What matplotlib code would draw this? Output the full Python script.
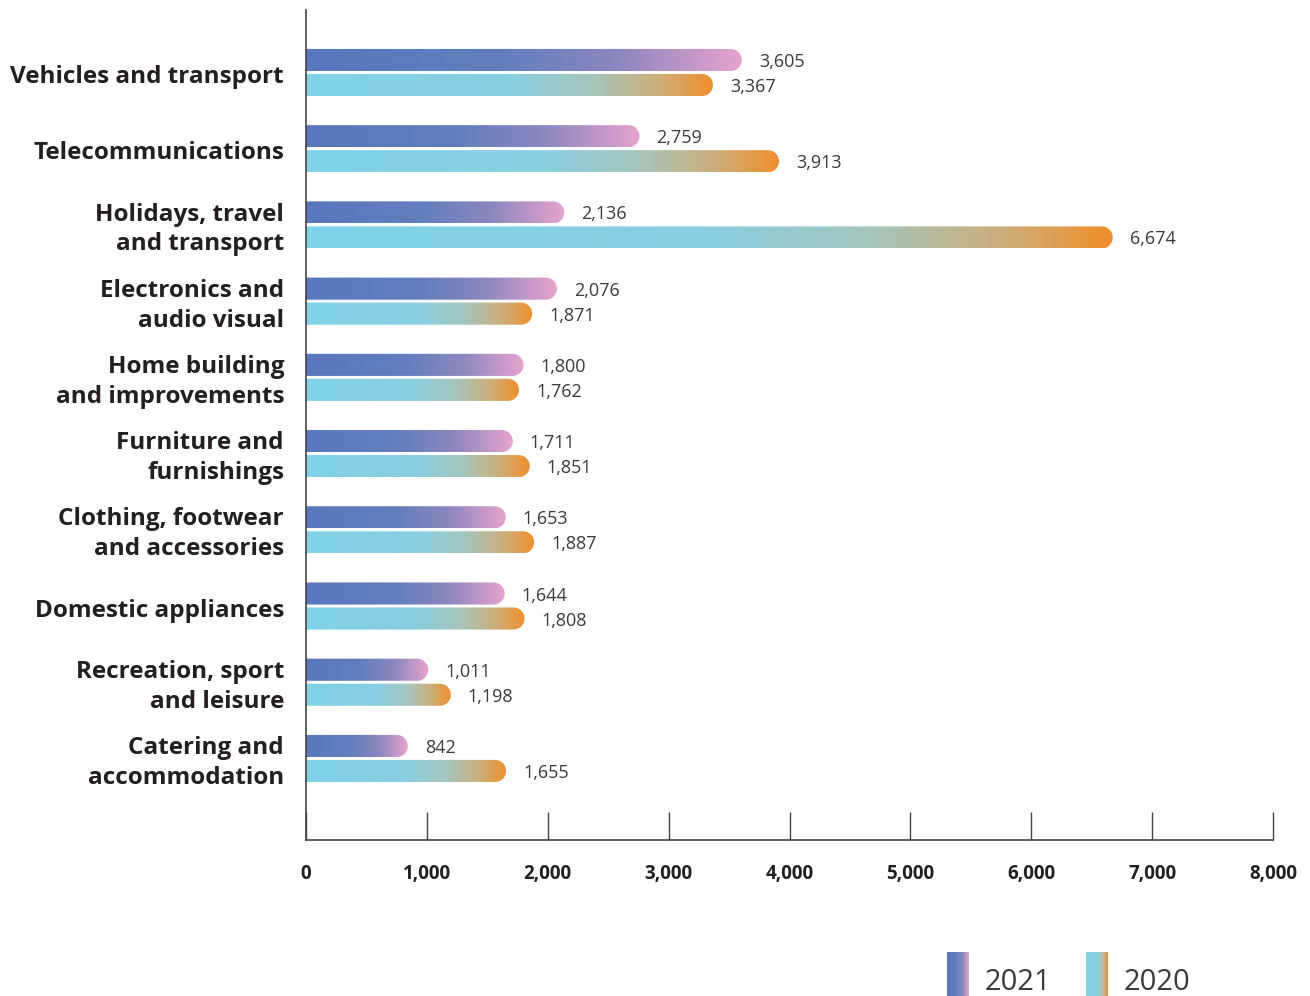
import numpy as np
import matplotlib.pyplot as plt
from matplotlib.colors import LinearSegmentedColormap
from matplotlib.path import Path
from matplotlib.patches import PathPatch

categories = [
    "Vehicles and transport",
    "Telecommunications",
    "Holidays, travel\nand transport",
    "Electronics and\naudio visual",
    "Home building\nand improvements",
    "Furniture and\nfurnishings",
    "Clothing, footwear\nand accessories",
    "Domestic appliances",
    "Recreation, sport\nand leisure",
    "Catering and\naccommodation",
]
values_2021 = [3605, 2759, 2136, 2076, 1800, 1711, 1653, 1644, 1011, 842]
values_2020 = [3367, 3913, 6674, 1871, 1762, 1851, 1887, 1808, 1198, 1655]
x_ticks = [0, 1000, 2000, 3000, 4000, 5000, 6000, 7000, 8000]

cmap_2021 = LinearSegmentedColormap.from_list(
    "c2021", [(0, "#5877bc"), (0.45, "#627ebe"), (0.72, "#8c87c0"), (1.0, "#e7a3cd")])
cmap_2020 = LinearSegmentedColormap.from_list(
    "c2020", [(0, "#7fd3e8"), (0.5, "#89cfe1"), (0.7, "#a5c6bd"),
              (0.86, "#cbb07e"), (1.0, "#f08f2b")])

plt.rcParams['font.family'] = ['Open Sans', 'DejaVu Sans']
text_dark = "#231f20"
text_val = "#3a3a3a"

W, H, DPI = 1310, 996, 100
fig = plt.figure(figsize=(W / DPI, H / DPI), dpi=DPI, facecolor='white')
ax_left, ax_right = 306 / W, 1273 / W
ax_bottom, ax_top = 1 - 840 / H, 1 - 10 / H
ax = fig.add_axes([ax_left, ax_bottom, ax_right - ax_left, ax_top - ax_bottom])

xmax = 8000
ylim = (len(categories) - 1 + 1.07, -0.82)
bar_h = 0.29
offset = 0.164

# pixels per data unit, used to keep the rounded caps circular
px_x = (ax_right - ax_left) * W / xmax
px_y = (ax_top - ax_bottom) * H / (ylim[0] - ylim[1])


def gradient_bar(ax, y, value, cmap):
    y0, y1 = y - bar_h / 2, y + bar_h / 2
    ry = bar_h / 2
    rx = ry * px_y / px_x
    xc = value - rx
    theta = np.linspace(-np.pi / 2, np.pi / 2, 40)
    arc = np.column_stack([xc + rx * np.cos(theta), y + ry * np.sin(theta)])
    verts = np.vstack([[[0, y0]], arc, [[0, y1]], [[0, y0]]])
    codes = [Path.MOVETO] + [Path.LINETO] * (len(verts) - 2) + [Path.CLOSEPOLY]
    patch = PathPatch(Path(verts, codes), facecolor='none', edgecolor='none')
    ax.add_patch(patch)
    grad = np.linspace(0, 1, 256).reshape(1, -1)
    im = ax.imshow(grad, cmap=cmap, extent=(0, value, y1, y0), aspect='auto',
                   interpolation='bilinear', zorder=2)
    im.set_clip_path(patch)


for i, (v21, v20) in enumerate(zip(values_2021, values_2020)):
    for y, v, cmap in [(i - offset, v21, cmap_2021), (i + offset, v20, cmap_2020)]:
        gradient_bar(ax, y, v, cmap)
        ax.text(v + 17 / px_x, y, f"{v:,}", ha='left', va='center_baseline',
                fontsize=13, color=text_val)
    ax.text(-22 / px_x, i + 0.06, categories[i], ha='right', va='center',
            fontsize=17.5, fontweight='bold', color=text_dark, linespacing=1.33)

ax.set_xlim(0, xmax)
ax.set_ylim(*ylim)

for s in ['top', 'right']:
    ax.spines[s].set_visible(False)
for s in ['left', 'bottom']:
    ax.spines[s].set_color('#444444')
    ax.spines[s].set_linewidth(1.2)

ax.set_yticks([])
ax.set_xticks(x_ticks)
ax.set_xticklabels([f"{t:,}" for t in x_ticks], fontsize=13.5, fontweight='bold',
                   color=text_dark)
ax.tick_params(axis='x', direction='in', length=20, width=1, color='#444444', pad=17)

# legend with small gradient swatches
legend_items = [("2021", cmap_2021, 947), ("2020", cmap_2020, 1086)]
for label, cmap, x0 in legend_items:
    sax = fig.add_axes([x0 / W, 0, 22 / W, 44 / H])
    sax.imshow(np.linspace(0, 1, 64).reshape(1, -1), cmap=cmap, aspect='auto')
    sax.axis('off')
    fig.text((x0 + 38) / W, 17 / H, label, fontsize=21, color=text_val,
             ha='left', va='center_baseline')

fig.savefig("out.png", dpi=DPI, facecolor='white')
